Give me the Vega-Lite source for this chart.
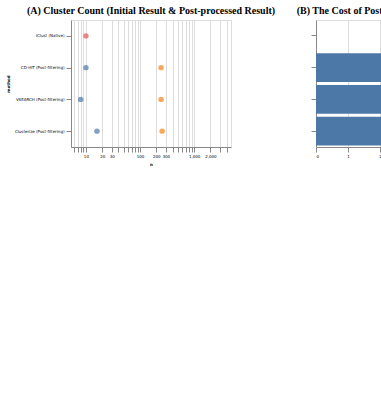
{
  "$schema": "https://vega.github.io/schema/vega-lite/v6.json",
  "datasets": {
    "counts": [
      {"method": "iClust (Native)", "kind": "iClust", "n": 10},
      {"method": "CD-HIT (Post-filtering)", "kind": "Raw clusters", "n": 245},
      {"method": "CD-HIT (Post-filtering)", "kind": "Post-filtered clusters", "n": 10},
      {"method": "VSEARCH (Post-filtering)", "kind": "Raw clusters", "n": 245},
      {"method": "VSEARCH (Post-filtering)", "kind": "Post-filtered clusters", "n": 8},
      {"method": "Clusterize (Post-filtering)", "kind": "Raw clusters", "n": 256},
      {"method": "Clusterize (Post-filtering)", "kind": "Post-filtered clusters", "n": 16}
    ],
    "losses": [
      {"method": "iClust (Native)", "fn": 0, "lab": "ZERO"},
      {"method": "CD-HIT (Post-filtering)", "fn": 4, "lab": "4"},
      {"method": "VSEARCH (Post-filtering)", "fn": 4, "lab": "4"},
      {"method": "Clusterize (Post-filtering)", "fn": 5, "lab": "5"}
    ]
  },
  "hconcat": [
    {
      "width": 160, "height": 127,
      "title": "(A) Cluster Count (Initial Result & Post-processed Result)",
      "data": {"name": "counts"},
      "mark": {"type": "point", "filled": true},
      "encoding": {
        "x": {"field": "n", "type": "quantitative", "scale": {"type": "log", "domain": [5.3, 4800], "nice": false}},
        "y": {"field": "method", "type": "nominal", "sort": ["iClust (Native)", "CD-HIT (Post-filtering)", "VSEARCH (Post-filtering)", "Clusterize (Post-filtering)"]},
        "color": {"field": "kind", "type": "nominal"}
      }
    },
    {
      "width": 160, "height": 127,
      "title": "(B) The Cost of Post-filtering (False Negatives)",
      "data": {"name": "losses"},
      "mark": "bar",
      "encoding": {
        "y": {"field": "method", "type": "nominal", "sort": ["iClust (Native)", "CD-HIT (Post-filtering)", "VSEARCH (Post-filtering)", "Clusterize (Post-filtering)"], "axis": {"labels": false, "title": null}},
        "x": {"field": "fn", "type": "quantitative"}
      }
    }
  ],
  "config": {
    "font": "DejaVu Sans",
    "axis": {"labelFontSize": 4, "titleFontSize": 4},
    "title": {"font": "Liberation Serif", "fontSize": 10}
  }
}
